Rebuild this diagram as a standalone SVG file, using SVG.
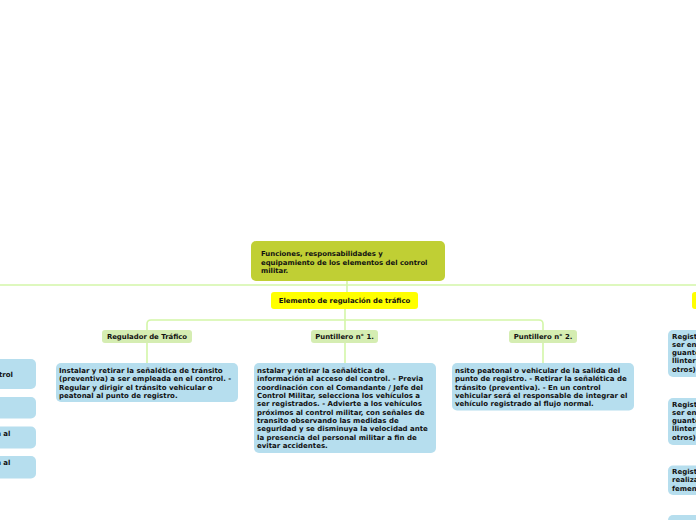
<svg xmlns="http://www.w3.org/2000/svg" width="696" height="520" viewBox="0 0 696 520">
<style>
text{font-family:"DejaVu Sans","Verdana",sans-serif;font-weight:bold;font-size:6.9px;fill:#111}
.b text{font-size:7px}
.blue{fill:#b6deee}
.grn{fill:#d5edb2}
.yel{fill:#ffff00}
.main{fill:#c0cf34}
.ln{fill:none;stroke:#d3f6a8;stroke-width:1.6}
.c{text-anchor:middle}
</style>
<rect width="696" height="520" fill="#fff"/>
<g id="connectors">
<line class="ln" x1="0" y1="285" x2="696" y2="285"/>
<line class="ln" x1="347" y1="281" x2="347" y2="292"/>
<line class="ln" x1="345" y1="309" x2="345" y2="330"/>
<path class="ln" d="M147 330 V324 Q147 320 151 320 H539 Q543 320 543 324 V330"/>
<line class="ln" x1="147" y1="343" x2="147" y2="363"/>
<line class="ln" x1="345" y1="343" x2="345" y2="363"/>
<line class="ln" x1="543" y1="343" x2="543" y2="363"/>
</g>
<g id="main">
<rect class="main" x="251" y="241" width="194" height="40" rx="5"/>
<text x="261" y="255.5">Funciones, responsabilidades y</text>
<text x="261" y="264.5">equipamiento de los elementos del control</text>
<text x="261" y="273">militar.</text>
</g>
<g id="elemento">
<rect class="yel" x="271" y="292" width="147" height="17" rx="3"/>
<text class="c" x="344.5" y="303">Elemento de regulación de tráfico</text>
</g>
<g id="elemento2">
<rect class="yel" x="692" y="292" width="20" height="17" rx="3"/>
</g>
<g id="regulador">
<rect class="grn" x="102" y="330" width="90" height="13" rx="3"/>
<text class="c" x="147" y="339">Regulador de Tráfico</text>
</g>
<g id="punt1">
<rect class="grn" x="311" y="330" width="67" height="13" rx="3"/>
<text class="c" x="344.5" y="339">Puntillero n° 1.</text>
</g>
<g id="punt2">
<rect class="grn" x="509" y="330" width="68" height="13" rx="3"/>
<text class="c" x="543" y="339">Puntillero n° 2.</text>
</g>
<g id="desc-regulador" class="b">
<rect class="blue" x="56" y="363" width="182" height="39" rx="5"/>
<text x="59" y="373">Instalar y retirar la señalética de tránsito</text>
<text x="59" y="381.3">(preventiva) a ser empleada en el control. -</text>
<text x="59" y="389.6">Regular y dirigir el tránsito vehicular o</text>
<text x="59" y="398">peatonal al punto de registro.</text>
</g>
<g id="desc-punt1" class="b">
<rect class="blue" x="254" y="363" width="182" height="90" rx="5"/>
<text x="257" y="373">nstalar y retirar la señalética de</text>
<text x="257" y="381.3">información al acceso del control. - Previa</text>
<text x="257" y="389.6">coordinación con el Comandante / Jefe del</text>
<text x="257" y="398">Control Militar, selecciona los vehículos a</text>
<text x="257" y="406.3">ser registrados. - Advierte a los vehículos</text>
<text x="257" y="414.6">próximos al control militar, con señales de</text>
<text x="257" y="423">transito observando las medidas de</text>
<text x="257" y="431.3">seguridad y se disminuya la velocidad ante</text>
<text x="257" y="439.6">la presencia del personal militar a fin de</text>
<text x="257" y="448">evitar accidentes.</text>
</g>
<g id="desc-punt2" class="b">
<rect class="blue" x="452" y="363" width="182" height="47.5" rx="5"/>
<text x="455" y="373">nsito peatonal o vehicular de la salida del</text>
<text x="455" y="381.3">punto de registro. - Retirar la señalética de</text>
<text x="455" y="389.6">tránsito (preventiva). - En un control</text>
<text x="455" y="398">vehicular será el responsable de integrar el</text>
<text x="455" y="406.3">vehículo registrado al flujo normal.</text>
</g>
<g id="left1" class="b">
<rect class="blue" x="-10" y="359" width="46" height="30" rx="5"/>
<text x="-1" y="377">trol</text>
</g>
<g id="left2" class="b">
<rect class="blue" x="-10" y="397" width="46" height="21.5" rx="5"/>
</g>
<g id="left3" class="b">
<rect class="blue" x="-10" y="426.5" width="46" height="22" rx="5"/>
<text x="10.5" y="435.5" text-anchor="end">n al</text>
</g>
<g id="left4" class="b">
<rect class="blue" x="-10" y="456" width="46" height="22.5" rx="5"/>
<text x="10.5" y="465" text-anchor="end">n al</text>
</g>
<g id="right1" class="b">
<rect class="blue" x="668" y="330" width="60" height="47" rx="5"/>
<text x="672" y="338.5">Regist</text>
<text x="672" y="346.8">ser en</text>
<text x="672" y="355.1">guante</text>
<text x="672" y="363.4">llintern</text>
<text x="672" y="371.7">otros)</text>
</g>
<g id="right2" class="b">
<rect class="blue" x="668" y="398" width="60" height="47" rx="5"/>
<text x="672" y="406.5">Regist</text>
<text x="672" y="414.8">ser en</text>
<text x="672" y="423.1">guante</text>
<text x="672" y="431.4">llintern</text>
<text x="672" y="439.7">otros)</text>
</g>
<g id="right3" class="b">
<rect class="blue" x="668" y="465.5" width="60" height="29.5" rx="5"/>
<text x="672" y="474">Regist</text>
<text x="672" y="482.3">realiza</text>
<text x="672" y="490.6">femen</text>
</g>
<g id="right4" class="b">
<rect class="blue" x="668" y="515" width="60" height="20" rx="5"/>
</g>
</svg>
